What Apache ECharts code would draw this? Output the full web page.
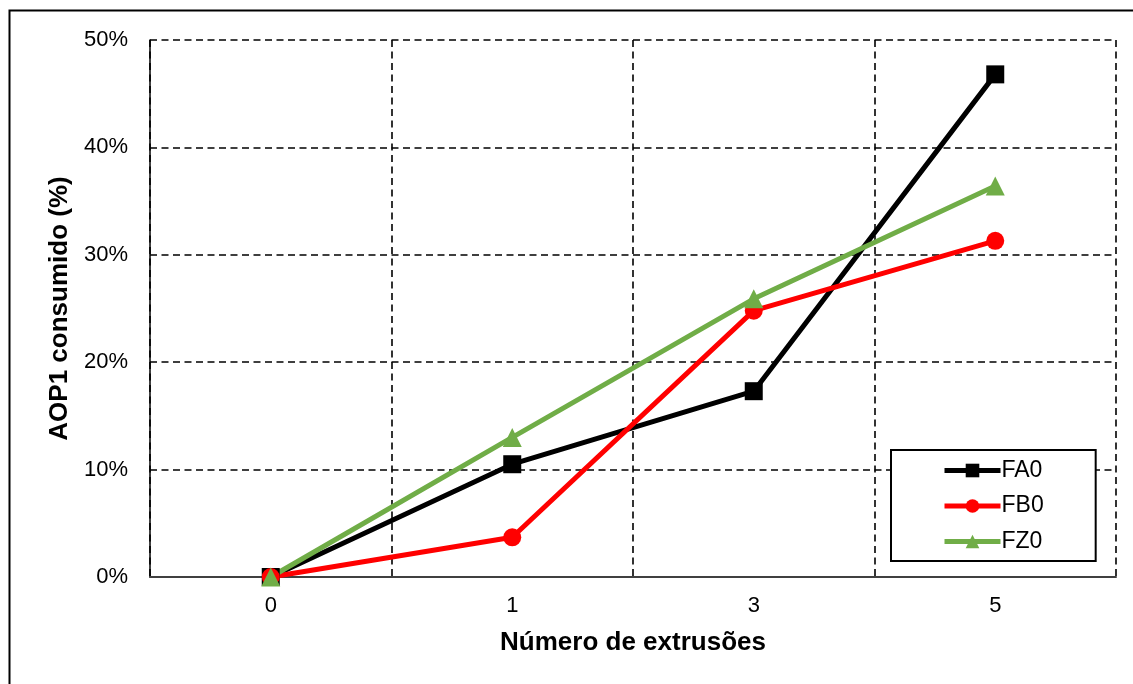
<!DOCTYPE html>
<html>
<head>
<meta charset="utf-8">
<script src="https://cdn.jsdelivr.net/npm/echarts@6/dist/echarts.min.js"></script>
<style>
  html, body { margin: 0; padding: 0; background: #fff; }
  #chart { width: 1133px; height: 684px; }
</style>
</head>
<body>
<div id="chart"></div>
<script>
// Number of extrusions (category axis)
const categories = ['0', '1', '3', '5'];

// AOP1 consumed (%) per formulation
const fa0 = [0, 10.5, 17.3, 46.8];
const fb0 = [0, 3.7, 24.8, 31.3];
const fz0 = [0, 13.0, 25.9, 36.4];

const yTicks = { min: 0, max: 50, interval: 10 };

const FONT = '"Liberation Sans", Arial, sans-serif';
const dashed = { color: '#000', width: 1.6, type: [7, 4.5] };

const chart = echarts.init(document.getElementById('chart'), null, { renderer: 'canvas' });

function lineSeries(name, data, color, symbol, size) {
  return {
    name: name,
    type: 'line',
    data: data,
    symbol: symbol,
    symbolSize: size,
    showAllSymbol: true,
    lineStyle: { color: color, width: 5 },
    itemStyle: { color: color },
    emphasis: { disabled: true },
    animation: false
  };
}

chart.setOption({
  backgroundColor: '#fff',
  animation: false,
  textStyle: { fontFamily: FONT },
  grid: { left: 150, right: 17, top: 40, bottom: 107, containLabel: false },
  graphic: [{
    type: 'rect',
    shape: { x: 9.5, y: 10.5, width: 1140, height: 690 },
    style: { fill: 'none', stroke: '#000', lineWidth: 2 },
    z: -1,
    silent: true
  }],
  legend: {
    orient: 'vertical',
    left: 891,
    top: 450,
    padding: [9, 52, 8, 51],
    itemGap: 12.5,
    itemWidth: 56,
    itemHeight: 17,
    backgroundColor: '#fff',
    borderColor: '#000',
    borderWidth: 2,
    borderRadius: 0,
    lineStyle: { width: 5 },
    textStyle: { fontFamily: FONT, fontSize: 23, color: '#000', padding: [0, 0, 0, -4] },
    data: ['FA0', 'FB0', 'FZ0']
  },
  xAxis: {
    type: 'category',
    data: categories,
    boundaryGap: true,
    name: 'Número de extrusões',
    nameLocation: 'middle',
    nameGap: 53,
    nameTextStyle: { fontFamily: FONT, fontSize: 26, fontWeight: 'bold', color: '#000' },
    axisLine: { lineStyle: { color: '#404040', width: 2 } },
    axisTick: { show: false },
    axisLabel: { fontFamily: FONT, fontSize: 22, color: '#000', margin: 18 },
    splitLine: { show: true, lineStyle: dashed }
  },
  yAxis: {
    type: 'value',
    min: yTicks.min,
    max: yTicks.max,
    interval: yTicks.interval,
    name: 'AOP1 consumido (%)',
    nameLocation: 'middle',
    nameRotate: 90,
    nameGap: 77,
    nameTextStyle: { fontFamily: FONT, fontSize: 26, fontWeight: 'bold', color: '#000' },
    axisLine: { show: true, lineStyle: { color: '#000', width: 1.5 } },
    axisTick: { show: false },
    axisLabel: { fontFamily: FONT, fontSize: 22, color: '#000', margin: 22, formatter: '{value}%' },
    splitLine: { show: true, lineStyle: dashed }
  },
  series: [
    lineSeries('FA0', fa0, '#000000', 'rect', 18),
    lineSeries('FB0', fb0, '#FF0000', 'circle', 18),
    lineSeries('FZ0', fz0, '#70AD47', 'triangle', 19)
  ]
});
</script>
</body>
</html>
